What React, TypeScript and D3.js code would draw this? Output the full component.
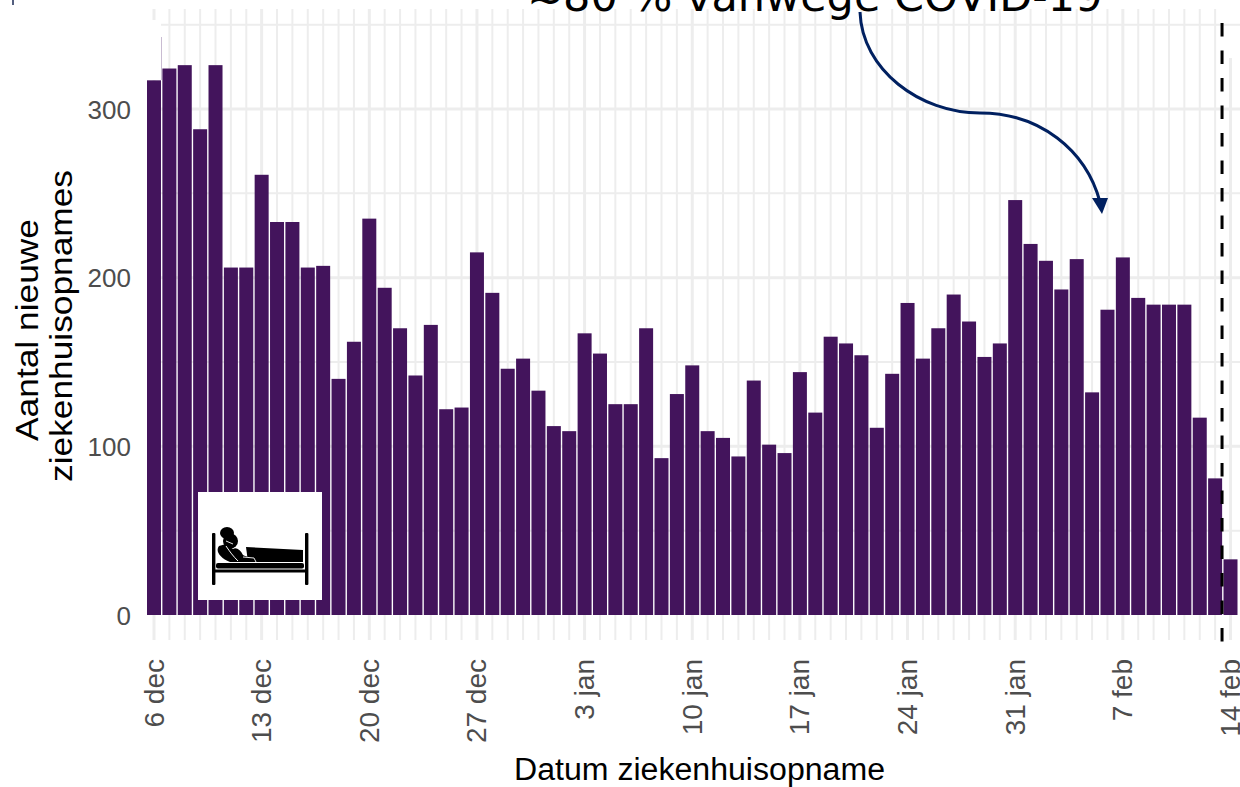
import React from "react";
import * as d3 from "d3";

const admissions = [
  317, 324, 326, 288, 326, 206, 206, 261, 233, 233, 206, 207, 140, 162, 235, 194, 170, 142, 172, 122, 123, 215, 191, 146, 152, 133,
  112, 109, 167, 155, 125, 125, 170, 93, 131, 148, 109, 105, 94, 139, 101, 96, 144, 120, 165, 161, 154, 111, 143, 185, 152, 170, 190, 174, 153, 161, 246,
  220, 210, 193, 211, 132, 181, 212, 188, 184, 184, 184, 117, 81, 33,
];
const weekLabels = ["6 dec", "13 dec", "20 dec", "27 dec", "3 jan", "10 jan", "17 jan", "24 jan", "31 jan", "7 feb", "14 feb"];
const yTicks = [0, 100, 200, 300];
const yMinor = [50, 150, 250, 350];
const cutoffDay = 69.45;

const W = 1240;
const H = 787;
const x = d3.scaleLinear().domain([0, 70]).range([154, 1230.5]);
const y = d3.scaleLinear().domain([0, 300]).range([615, 109]);
const BAR = 14;
const GRID = "#ededed";
const BAR_COLOR = "#43145c";
const SANS = "'Liberation Sans', Arial, sans-serif";

const arrowPath = d3.path();
arrowPath.moveTo(860, 12);
arrowPath.bezierCurveTo(862, 70, 920, 113, 980, 113);
arrowPath.bezierCurveTo(1040, 113, 1086, 150, 1100, 202);

export default function App() {
  const days = d3.range(0, 71);
  return (
    <svg
      width={W}
      height={H}
      viewBox={`0 0 ${W} ${H}`}
      style={{ position: "absolute", left: 0, top: 0, display: "block", background: "#fff" }}
    >
      {/* gridlines */}
      {yMinor.map((v) => (
        <line key={v} x1={147} x2={1240} y1={y(v)} y2={y(v)} stroke={GRID} strokeWidth={2} />
      ))}
      {yTicks.slice(1).map((v) => (
        <line key={v} x1={147} x2={1240} y1={y(v)} y2={y(v)} stroke={GRID} strokeWidth={3} />
      ))}
      {days.map((d) => (
        <line
          key={d}
          x1={x(d)}
          x2={x(d)}
          y1={d === 70 ? 58 : 9}
          y2={640}
          stroke={GRID}
          strokeWidth={d % 7 === 0 ? 3 : 2}
        />
      ))}
      <rect x={147} y={20} width={14} height={60} fill="#fff" />
      <line x1={161.5} x2={161.5} y1={37} y2={80} stroke="#c9bcd2" strokeWidth={1} />

      {/* bars */}
      {admissions.map((v, i) => (
        <rect key={i} x={x(i) - BAR / 2} y={y(v)} width={BAR} height={y(0) - y(v)} fill={BAR_COLOR} />
      ))}

      {/* y axis */}
      {yTicks.map((v) => (
        <text key={v} x={131} y={y(v) + 9.5} textAnchor="end" fontFamily={SANS} fontSize={26} fill="#4d4d4d">
          {v}
        </text>
      ))}
      <text
        transform="translate(38,330) rotate(-90)"
        textAnchor="middle"
        fontFamily={SANS}
        fontSize={32}
        fill="#000"
        textLength={222}
        lengthAdjust="spacingAndGlyphs"
      >
        Aantal nieuwe
      </text>
      <text
        transform="translate(72,326) rotate(-90)"
        textAnchor="middle"
        fontFamily={SANS}
        fontSize={32}
        fill="#000"
        textLength={312}
        lengthAdjust="spacingAndGlyphs"
      >
        ziekenhuisopnames
      </text>

      {/* x axis */}
      {weekLabels.map((label, i) => (
        <text
          key={label}
          transform={`translate(${x(i * 7) + 9.5},659) rotate(-90)`}
          textAnchor="end"
          fontFamily={SANS}
          fontSize={28}
          fill="#4d4d4d"
        >
          {label}
        </text>
      ))}
      <text
        x={699.5}
        y={780}
        textAnchor="middle"
        fontFamily={SANS}
        fontSize={31}
        fill="#000"
        textLength={371}
        lengthAdjust="spacingAndGlyphs"
      >
        Datum ziekenhuisopname
      </text>

      {/* cutoff */}
      <line
        x1={x(cutoffDay)}
        x2={x(cutoffDay)}
        y1={23}
        y2={643}
        stroke="#000"
        strokeWidth={3}
        strokeDasharray="13.5 14"
      />

      {/* annotation */}
      <text x={527} y={10.5} fontFamily="'DejaVu Sans', sans-serif" fontSize={43} fill="#000">
        <tspan dy={3}>~</tspan>
        <tspan dy={-3}>80 % vanwege COVID-19</tspan>
      </text>
      <path d={arrowPath.toString()} fill="none" stroke="#002060" strokeWidth={3} />
      <polygon points="1092,198 1108,198 1102,214" fill="#002060" />

      {/* corner mark */}
      <line x1={13} x2={13} y1={0} y2={5} stroke="#1a2a55" strokeWidth={1.5} />

      {/* patient icon */}
      <rect x={198} y={492} width={124} height={108} fill="#fff" />
      <g fill="#000">
        <rect x={212} y={533} width={3.4} height={52} rx={1} />
        <rect x={305} y={533} width={3.4} height={52} rx={1} />
        <rect x={216} y={563} width={88} height={5.5} rx={2} />
        <rect x={215} y={569.5} width={90} height={3} />
        <path d="M246 547 L303 550 L303 562 L248 562 Z" />
        <circle cx={230.5} cy={541} r={7.5} />
        <ellipse cx={227} cy={533} rx={7} ry={6} />
        <path d="M219 546 C215 551 220 558 230 562 L257 562 C254 558 247 557 243 555 C240 549 236 547 233 549 L226 544 Z" />
      </g>
      <path d="M226 546 C230 552 233 556 238 561" fill="none" stroke="#fff" strokeWidth={1} />
      <path d="M226 541 L233 544" fill="none" stroke="#fff" strokeWidth={0.9} />
      <path d="M243 557 L254 558 L256 562" fill="none" stroke="#fff" strokeWidth={0.9} />
    </svg>
  );
}
